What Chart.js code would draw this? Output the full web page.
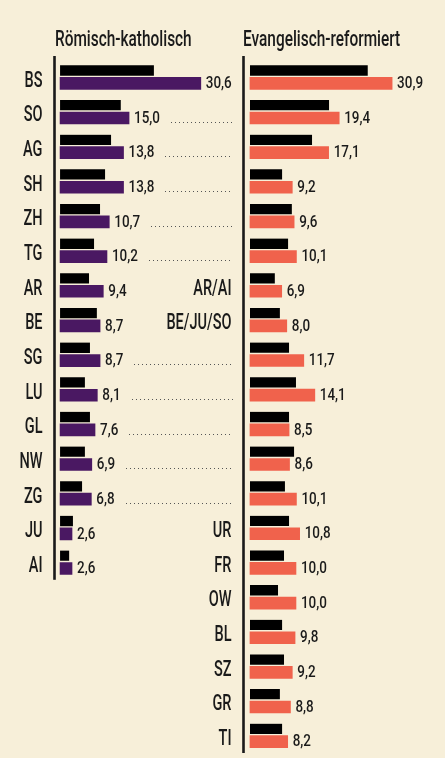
<!DOCTYPE html>
<html>
<head>
<meta charset="utf-8">
<script src="https://cdn.jsdelivr.net/npm/chart.js@4"></script>
<style>
  html, body { margin:0; padding:0; background:#f7efd9; width:445px; height:758px; overflow:hidden; }
  .title { position:absolute; top:0; font-family:Roboto,sans-serif; font-weight:500; font-size:22px; line-height:22px; color:#1a1a1a; white-space:nowrap; transform-origin:0 0; transform:scaleX(0.70); }
  .wrap { position:absolute; left:0; top:0; }
</style>
</head>
<body>
<div class="wrap" style="width:445px;height:758px"><canvas id="cR"></canvas></div>
<div class="wrap" style="width:240px;height:600px"><canvas id="cL"></canvas></div>
<div class="title" id="tL" style="left:55px;top:28px"></div>
<div class="title" id="tR" style="left:243px;top:28px"></div>
<script>
// ---- data ----
const titleLeft = 'Römisch-katholisch';
const titleRight = 'Evangelisch-reformiert';
const cantonsLeft = ['BS','SO','AG','SH','ZH','TG','AR','BE','SG','LU','GL','NW','ZG','JU','AI'];
const katholischAlt = [20.4,13.2,11.1,9.8,8.7,7.4,6.3,8.0,6.5,5.4,6.5,5.4,4.8,2.8,2.0];
const katholischNeu = [30.6,15.0,13.8,13.8,10.7,10.2,9.4,8.7,8.7,8.1,7.6,6.9,6.8,2.6,2.6];
const cantonsRight = ['BS','SO','AG','SH','ZH','TG','AR/AI','BE/JU/SO','SG','LU','GL','NW','ZG','UR','FR','OW','BL','SZ','GR','TI'];
const reformiertAlt = [25.6,17.2,13.5,7.0,9.1,8.3,5.4,6.5,8.5,10.0,8.5,9.6,7.6,8.5,7.4,6.1,7.0,7.4,6.5,7.0];
const reformiertNeu = [30.9,19.4,17.1,9.2,9.6,10.1,6.9,8.0,11.7,14.1,8.5,8.6,10.1,10.8,10.0,10.0,9.8,9.2,8.8,8.2];

document.getElementById('tL').textContent = titleLeft;
document.getElementById('tR').textContent = titleRight;

const FONT = "Roboto, sans-serif";
const INK = '#1a1a1a';
const PURPLE = '#4a1862';
const ORANGE = '#f0624c';
const PXU = 4.6;
const LABEL_SX = 0.66;
const VALUE_SX = 0.84;

const fmt = v => v.toFixed(1).replace('.', ',');

function drawText(ctx, txt, x, y, sx, align) {
  ctx.save();
  ctx.translate(x, y);
  ctx.scale(sx, 1);
  ctx.textAlign = align;
  ctx.fillText(txt, 0, 0);
  ctx.restore();
}

function overlay(opts) {
  return {
    id: 'overlay',
    afterDraw(chart) {
      const ctx = chart.ctx;
      const area = chart.chartArea;
      const ys = chart.scales.y;
      const labels = chart.data.labels;
      ctx.save();
      // axis line
      ctx.fillStyle = INK;
      ctx.fillRect(area.left - 1.8, 56, 2.6, area.bottom - 56);
      // category labels
      ctx.font = '500 22px ' + FONT;
      ctx.textBaseline = 'alphabetic';
      labels.forEach((l, i) => {
        if (!opts.showLabel(l)) return;
        drawText(ctx, l, area.left - 12.5, ys.getPixelForValue(i) + 9.4, LABEL_SX, 'right');
      });
      // value labels + leaders
      const meta = chart.getDatasetMeta(1);
      ctx.font = '500 16px ' + FONT;
      meta.data.forEach((bar, i) => {
        const txt = fmt(chart.data.datasets[1].data[i]);
        const x = bar.x + 5;
        const base = bar.y + 4.7;
        ctx.fillStyle = INK;
        drawText(ctx, txt, x, base, VALUE_SX, 'left');
        if (opts.leaderX && opts.leader(labels[i])) {
          const w = ctx.measureText(txt).width * VALUE_SX;
          ctx.fillStyle = '#555';
          for (let dx = x + w + 11; dx <= opts.leaderX; dx += 4) {
            ctx.fillRect(Math.round(dx), Math.round(base) - 1, 1, 1);
          }
        }
      });
      ctx.restore();
    }
  };
}

function makeChart(id, labels, alt, neu, color, xmin, xmax, axisW, padBottom, overlayOpts) {
  return new Chart(document.getElementById(id), {
    type: 'bar',
    data: {
      labels: labels,
      datasets: [
        { data: alt, backgroundColor: '#000', barThickness: 12,
          borderWidth: {top:0,left:0,right:0,bottom:2}, borderColor: 'rgba(0,0,0,0)', borderSkipped: false },
        { data: neu, backgroundColor: color, barThickness: 12, borderWidth: 0 }
      ]
    },
    options: {
      indexAxis: 'y',
      responsive: true,
      maintainAspectRatio: false,
      animation: false,
      devicePixelRatio: 1,
      layout: { padding: { top: 60, bottom: padBottom, left: 0, right: 0 } },
      plugins: { legend: { display: false }, tooltip: { enabled: false } },
      scales: {
        x: { display: false, min: xmin, max: xmax },
        y: {
          grid: { display: false, drawTicks: false },
          border: { display: false },
          ticks: { display: false },
          afterFit: s => { s.width = axisW; s.paddingTop = 0; s.paddingBottom = 0; }
        }
      }
    },
    plugins: [overlay(overlayOpts)]
  });
}

makeChart('cL', cantonsLeft, katholischAlt, katholischNeu, PURPLE,
  -1.1, -1.1 + 185 / PXU, 55, 600 - 579.8,
  { showLabel: () => true, leaderX: 232, leader: l => cantonsRight.includes(l) && l !== 'BS' });

makeChart('cR', cantonsRight, reformiertAlt, reformiertNeu, ORANGE,
  -1.3, -1.3 + 201 / PXU, 244, 758 - 753,
  { showLabel: l => !cantonsLeft.includes(l), leaderX: null, leader: () => false });
</script>
</body>
</html>
